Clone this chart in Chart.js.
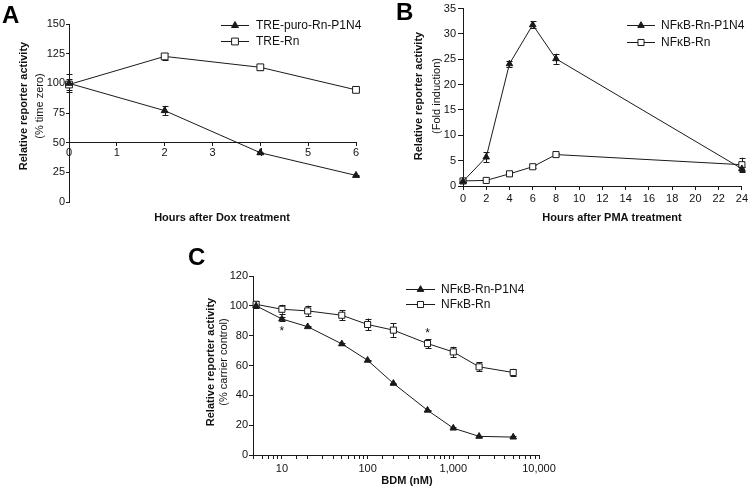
<!DOCTYPE html>
<html>
<head>
<meta charset="utf-8">
<script src="https://cdn.jsdelivr.net/npm/chart.js@4.4.1/dist/chart.umd.min.js"></script>
<style>
  html, body { margin: 0; padding: 0; background: #fff; }
  #wrap { position: relative; width: 750px; height: 488px; overflow: hidden; }
  canvas { position: absolute; }
  .letter { position: absolute; font: bold 24px "Liberation Sans", Arial, sans-serif; line-height: 24px; color: #000; }
</style>
</head>
<body>
<div id="wrap">
  <canvas id="chartA" width="375" height="240" style="left:0;top:0"></canvas>
  <canvas id="chartB" width="375" height="240" style="left:375px;top:0"></canvas>
  <canvas id="chartC" width="400" height="248" style="left:180px;top:240px"></canvas>
  <div class="letter" style="left:2px;top:3px">A</div>
  <div class="letter" style="left:396px;top:0px">B</div>
  <div class="letter" style="left:188px;top:245px">C</div>
</div>
<script>
const FONT = '"Liberation Sans", Arial, sans-serif';
const INK = "#1a1a1a";

// panel A: hours after Dox
const hoursA = [0, 2, 4, 6];
const treP1N4A = [100, 77, 41.5, 22.4];
const treP1N4ErrA = [7.5, 4, 1, 0.5];
const treRnA = [99, 122.7, 113.5, 94.5];
const treRnErrA = [5, 3, 2.5, 1];

// panel B: hours after PMA
const hoursB = [0, 2, 4, 6, 8, 24];
const p1n4B = [0.9, 5.7, 24.1, 31.8, 25.1, 3.4];
const p1n4ErrB = [0.2, 1, 0.6, 0.7, 1, 0.4];
const rnB = [1, 1.1, 2.4, 3.8, 6.2, 4.2];
const rnErrB = [0.2, 0.2, 0.4, 0.3, 0.3, 1.4];

// panel C: BDM dose
const bdmC = [5, 10, 20, 50, 100, 200, 500, 1000, 2000, 5000];
const p1n4C = [100, 91.2, 86, 74.5, 63.5, 48, 30, 18, 12.5, 12];
const p1n4ErrC = [1.5, 1.5, 0.5, 0.5, 0.5, 0.5, 0.5, 0.5, 0.5, 0.5];
const rnC = [101, 97.7, 96.6, 93.7, 87.5, 83.7, 74.7, 69.1, 59.1, 55.3];
const rnErrC = [2, 3, 3.5, 3.5, 4, 4.5, 3, 3.5, 3, 2.5];
const starX = [10, 500];
const starY = [84, 83];

function pts(xs, ys) {
  return xs.map((x, i) => ({ x: x, y: ys[i] }));
}

function drawMarker(ctx, style, x, y, r, fill, stroke) {
  ctx.beginPath();
  if (style === "triangle") {
    for (let k = 0; k < 3; k++) {
      const a = k * 2 * Math.PI / 3;
      const px = x + Math.sin(a) * r, py = y - Math.cos(a) * r;
      if (k === 0) ctx.moveTo(px, py); else ctx.lineTo(px, py);
    }
    ctx.closePath();
  } else {
    const s = r * Math.SQRT1_2;
    ctx.rect(x - s, y - s, 2 * s, 2 * s);
  }
  ctx.fillStyle = fill;
  ctx.fill();
  ctx.lineWidth = 1;
  ctx.strokeStyle = stroke;
  ctx.stroke();
}

const errorBars = {
  id: "errorBars",
  beforeDatasetsDraw(chart) {
    const ctx = chart.ctx;
    chart.data.datasets.forEach((ds, i) => {
      if (!ds.errors) return;
      const meta = chart.getDatasetMeta(i);
      const ys = chart.scales[meta.yAxisID];
      meta.data.forEach((el, j) => {
        const e = ds.errors[j];
        if (!e) return;
        const v = ds.data[j].y;
        const t = ys.getPixelForValue(v + e), b = ys.getPixelForValue(v - e);
        const x = Math.round(el.x) + 0.5;
        ctx.save();
        ctx.strokeStyle = INK;
        ctx.lineWidth = 1;
        ctx.beginPath();
        ctx.moveTo(x, t); ctx.lineTo(x, b);
        ctx.moveTo(x - 3, Math.round(t) + 0.5); ctx.lineTo(x + 3, Math.round(t) + 0.5);
        ctx.moveTo(x - 3, Math.round(b) + 0.5); ctx.lineTo(x + 3, Math.round(b) + 0.5);
        ctx.stroke();
        ctx.restore();
      });
    });
  }
};

const lineLegend = {
  id: "lineLegend",
  afterDraw(chart, args, o) {
    const ctx = chart.ctx;
    chart.data.datasets.forEach((ds, i) => {
      const y = Math.round(o.y + i * o.gap) + 0.5;
      ctx.save();
      ctx.strokeStyle = INK;
      ctx.lineWidth = 1;
      ctx.beginPath();
      ctx.moveTo(o.x, y); ctx.lineTo(o.x + o.len, y);
      ctx.stroke();
      drawMarker(ctx, ds.pointStyle, o.x + o.len / 2, y, ds.pointRadius, ds.pointBackgroundColor, INK);
      ctx.fillStyle = "#111";
      ctx.font = "12px " + FONT;
      ctx.textBaseline = "middle";
      ctx.fillText(ds.label, o.x + o.len + o.textGap, y);
      ctx.restore();
    });
  }
};

const axisText = {
  id: "axisText",
  afterDraw(chart, args, o) {
    const ctx = chart.ctx;
    ctx.save();
    ctx.fillStyle = "#111";
    ctx.textAlign = "center";
    ctx.textBaseline = "middle";
    ctx.font = "bold 11px " + FONT;
    ctx.fillText(o.xTitle, o.xTitleX, o.xTitleY);
    ctx.translate(o.yTitleX, o.yTitleY);
    ctx.rotate(-Math.PI / 2);
    ctx.fillText(o.yTitle, 0, 0);
    ctx.font = "11px " + FONT;
    ctx.fillText(o.ySub, 0, o.ySubGap);
    ctx.restore();
    if (o.stars) {
      ctx.save();
      ctx.fillStyle = "#111";
      ctx.font = "12px " + FONT;
      ctx.textAlign = "center";
      ctx.textBaseline = "middle";
      o.stars.x.forEach((sx, k) => {
        ctx.fillText("*", chart.scales.x.getPixelForValue(sx), chart.scales.y.getPixelForValue(o.stars.y[k]) + 2);
      });
      ctx.restore();
    }
  }
};

function tri(label, data, err, r) {
  return {
    label: label, data: data, errors: err,
    borderColor: INK, borderWidth: 1, tension: 0, clip: false,
    pointStyle: "triangle", pointRadius: r, pointHoverRadius: r,
    pointBackgroundColor: INK, pointBorderColor: INK, pointBorderWidth: 1
  };
}
function sq(label, data, err, r) {
  return {
    label: label, data: data, errors: err,
    borderColor: INK, borderWidth: 1, tension: 0, clip: false,
    pointStyle: "rect", pointRadius: r, pointHoverRadius: r,
    pointBackgroundColor: "#fff", pointBorderColor: INK, pointBorderWidth: 1
  };
}

function axis(tickLen, extra, tickExtra) {
  return Object.assign({
    grid: { drawOnChartArea: false, tickLength: tickLen, color: INK },
    border: { color: INK, width: 1 },
    ticks: Object.assign({ font: { family: FONT, size: 11 }, color: "#111", padding: 2, autoSkip: false, maxRotation: 0 }, tickExtra)
  }, extra);
}

const baseOpts = {
  responsive: false,
  animation: false,
  events: []
};

// ---- A ----
new Chart(document.getElementById("chartA"), {
  type: "line",
  data: {
    datasets: [
      tri("TRE-puro-Rn-P1N4", pts(hoursA, treP1N4A), treP1N4ErrA, 4),
      sq("TRE-Rn", pts(hoursA, treRnA), treRnErrA, 4.8)
    ]
  },
  options: Object.assign({}, baseOpts, {
    layout: { padding: { left: 0, top: 24, right: 19, bottom: 38 } },
    scales: {
      x: axis(3, { type: "linear", min: 0, max: 6, position: { y: 50 } }, { stepSize: 1, padding: 1 }),
      y: axis(3, { type: "linear", min: 0, max: 150, afterFit(s) { s.width = 69; } }, { stepSize: 25, padding: 1 })
    },
    plugins: {
      legend: { display: false },
      tooltip: { enabled: false },
      lineLegend: { x: 221, y: 25, gap: 16, len: 28, textGap: 7 },
      axisText: { xTitle: "Hours after Dox treatment", xTitleX: 222, xTitleY: 218,
        yTitle: "Relative reporter activity", yTitleX: 24, yTitleY: 106,
        ySub: "(% time zero)", ySubGap: 16 }
    }
  }),
  plugins: [errorBars, lineLegend, axisText]
});

// ---- B ----
new Chart(document.getElementById("chartB"), {
  type: "line",
  data: {
    datasets: [
      tri("NF\u03baB-Rn-P1N4", pts(hoursB, p1n4B), p1n4ErrB, 3.8),
      sq("NF\u03baB-Rn", pts(hoursB, rnB), rnErrB, 4.3)
    ]
  },
  options: Object.assign({}, baseOpts, {
    layout: { padding: { left: 0, top: 7, right: 8, bottom: 0 } },
    scales: {
      x: axis(4, { type: "linear", min: 0, max: 24, afterFit(s) { s.height = 54; } }, { stepSize: 2 }),
      y: axis(5, { type: "linear", min: 0, max: 35, afterFit(s) { s.width = 88; } }, { stepSize: 5 })
    },
    plugins: {
      legend: { display: false },
      tooltip: { enabled: false },
      lineLegend: { x: 252, y: 25, gap: 16.5, len: 28, textGap: 6 },
      axisText: { xTitle: "Hours after PMA treatment", xTitleX: 237, xTitleY: 218,
        yTitle: "Relative reporter activity", yTitleX: 44, yTitleY: 96,
        ySub: "(Fold induction)", ySubGap: 18 }
    }
  }),
  plugins: [errorBars, lineLegend, axisText]
});

// ---- C ----
function logLabel(v) {
  const l = Math.log10(v);
  if (v >= 10 && Math.abs(l - Math.round(l)) < 1e-6) {
    return String(Math.round(v)).replace(/\B(?=(\d{3})+(?!\d))/g, ",");
  }
  return "";
}

new Chart(document.getElementById("chartC"), {
  type: "line",
  data: {
    datasets: [
      tri("NF\u03baB-Rn-P1N4", pts(bdmC, p1n4C), p1n4ErrC, 3.8),
      sq("NF\u03baB-Rn", pts(bdmC, rnC), rnErrC, 4.3)
    ]
  },
  options: Object.assign({}, baseOpts, {
    layout: { padding: { left: 0, top: 36, right: 41, bottom: 0 } },
    scales: {
      x: axis(4, { type: "logarithmic", min: 4.6, max: 10000, afterFit(s) { s.height = 33; } }, { padding: 3, callback: logLabel }),
      y: axis(4, { type: "linear", min: 0, max: 120, afterFit(s) { s.width = 73; } }, { stepSize: 20, padding: 1 })
    },
    plugins: {
      legend: { display: false },
      tooltip: { enabled: false },
      lineLegend: { x: 226, y: 48.5, gap: 15, len: 29, textGap: 6 },
      axisText: { xTitle: "BDM (nM)", xTitleX: 227, xTitleY: 241,
        yTitle: "Relative reporter activity", yTitleX: 31, yTitleY: 122,
        ySub: "(% carrier control)", ySubGap: 13,
        stars: { x: starX, y: starY } }
    }
  }),
  plugins: [errorBars, lineLegend, axisText]
});
</script>
</body>
</html>
